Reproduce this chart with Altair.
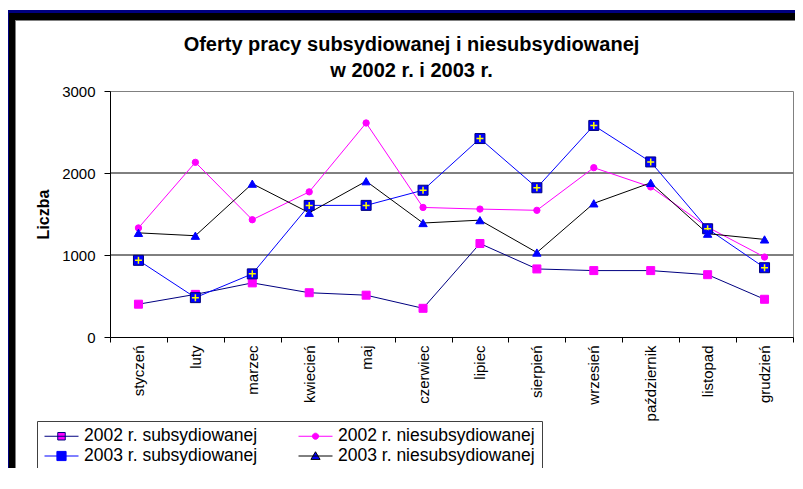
import altair as alt
import pandas as pd

months = ["styczeń", "luty", "marzec", "kwiecień", "maj", "czerwiec",
          "lipiec", "sierpień", "wrzesień", "październik", "listopad", "grudzień"]
series_names = ["2002 r. subsydiowanej", "2002 r. niesubsydiowanej",
                "2003 r. subsydiowanej", "2003 r. niesubsydiowanej"]
v2002_sub = [400, 520, 660, 540, 510, 350, 1140, 830, 810, 810, 760, 460]
v2002_nie = [1330, 2130, 1430, 1770, 2610, 1580, 1560, 1545, 2065, 1830, 1340, 975]
v2003_sub = [935, 480, 770, 1605, 1605, 1790, 2420, 1820, 2580, 2135, 1320, 845]
v2003_nie = [1270, 1235, 1870, 1515, 1900, 1390, 1425, 1030, 1630, 1880, 1260, 1190]
grid_values = [1000, 2000]
y_ticks = [0, 1000, 2000, 3000]

FONT = "Liberation Sans"

rows = []
for name, vals in zip(series_names, [v2002_sub, v2002_nie, v2003_sub, v2003_nie]):
    for m, v in zip(months, vals):
        rows.append({"miesiac": m, "seria": name, "liczba": v})
df = pd.DataFrame(rows)
grid_df = pd.DataFrame({"liczba": grid_values})

x_enc = alt.X(
    "miesiac:N", sort=months,
    scale=alt.Scale(type="band", domain=months, paddingInner=0, paddingOuter=0),
    axis=alt.Axis(title=None, labelAngle=270, labelAlign="right", labelBaseline="middle",
                  labelFontSize=15, labelFont=FONT, labelColor="black",
                  tickBand="extent", tickSize=5, tickColor="black",
                  domainColor="black", labelPadding=3, grid=False),
)
y_enc = alt.Y(
    "liczba:Q", scale=alt.Scale(domain=[0, 3000], nice=False),
    axis=alt.Axis(values=y_ticks, format="d", title="Liczba", titleFontSize=16,
                  titleFontWeight="bold",
                  titleFont=FONT, titleColor="black", titleAngle=270,
                  titleX=-67, titleY=123, titleAlign="center", titleBaseline="middle",
                  grid=False, tickSize=6, tickColor="black", domainColor="black",
                  labelFontSize=15, labelFont=FONT, labelColor="black", labelPadding=9),
)

line_colors = ["#000080", "#FF00FF", "#0000FF", "#000000"]
fill_colors = ["#FF00FF", "#FF00FF", "#0000FF", "#0000FF"]
shapes = ["square", "circle", "square", "triangle-up"]
sizes = [64, 40, 100, 70]
marker_strokes = ["#FF00FF", "#FF00FF", "#000080", "#0000FF"]

legend_paths = [
    "M-1,0H1M-0.22,-0.22H0.22V0.22H-0.22Z",
    "M-1,0H1M-0.18,0A0.18,0.18 0 1,0 0.18,0A0.18,0.18 0 1,0 -0.18,0Z",
    "M-1,0H1M-0.27,-0.27H0.27V0.27H-0.27Z",
    "M-1,0H1M0,-0.25L0.27,0.2H-0.27Z",
]

one = alt.Data(values=[{"a": 1}])


def hband(x1, x2, yc, th, color):
    return alt.Chart(one).mark_rule(color=color, strokeWidth=th, strokeCap="butt").encode(
        x=alt.value(x1), x2=alt.value(x2), y=alt.value(yc))


def vband(xc, y1, y2, th, color):
    return alt.Chart(one).mark_rule(color=color, strokeWidth=th, strokeCap="butt").encode(
        x=alt.value(xc), y=alt.value(y1), y2=alt.value(y2))


frame = [
    hband(-102, 690, -79.5, 3, "#000080"),
    hband(-101, 690, -74.5, 7, "#000000"),
    hband(-95, 690, -70.5, 1, "#808080"),
    vband(-101.5, -81, 400, 1, "#000080"),
    vband(-98, -78, 400, 6, "#000000"),
    vband(-94.5, -71, 400, 1, "#808080"),
]

grid = alt.Chart(grid_df).mark_rule(color="black", strokeWidth=1).encode(y=y_enc)

lines = []
points = []
for i, name in enumerate(series_names):
    sub = df[df["seria"] == name]
    lines.append(alt.Chart(sub).mark_line(color=line_colors[i], strokeWidth=1).encode(x=x_enc, y=y_enc))
    points.append(alt.Chart(sub).mark_point(
        shape=shapes[i], filled=True, fill=fill_colors[i], stroke=marker_strokes[i],
        strokeWidth=1, size=sizes[i], opacity=1).encode(x=x_enc, y=y_enc))

cross = alt.Chart(df[df["seria"] == series_names[2]]).mark_point(
    shape="M-1,0H1M0,-1V1", filled=False, stroke="#FFFF00", strokeWidth=1.5,
    size=49, opacity=1).encode(x=x_enc, y=y_enc)

leg = alt.Legend(title=None, orient="none", legendX=-73, legendY=330, columns=2,
                 direction="horizontal",
                 strokeColor="#404040", fillColor="white", padding=7,
                 labelFontSize=17.5, labelFont=FONT, labelColor="black", labelLimit=0,
                 symbolSize=1156, symbolStrokeWidth=1, labelOffset=5, clipHeight=16,
                 columnPadding=40, rowPadding=2)

legend_layer = alt.Chart(df).transform_filter("false").mark_point(
    filled=True, opacity=1, strokeWidth=1).encode(
    x=x_enc, y=y_enc,
    shape=alt.Shape("seria:N", scale=alt.Scale(domain=series_names, range=legend_paths), legend=leg),
    fill=alt.Fill("seria:N", scale=alt.Scale(domain=series_names, range=fill_colors), legend=leg),
    stroke=alt.Stroke("seria:N", scale=alt.Scale(domain=series_names, range=line_colors), legend=leg),
)

chart = alt.layer(*frame, grid, *lines, points[0], points[1], points[2], cross, points[3],
                  legend_layer).properties(
    width=683, height=246,
    title=alt.TitleParams(
        text=["Oferty pracy subsydiowanej i niesubsydiowanej", "w 2002 r. i 2003 r."],
        fontSize=20, font=FONT, fontWeight="bold", color="black",
        anchor="middle", dx=-40, dy=79, offset=8, lineHeight=26),
    autosize=alt.AutoSizeParams(type="none"),
    padding={"left": 102, "top": 83, "right": 2, "bottom": 131},
    background="white",
).configure_view(stroke="#808080", strokeWidth=1)

chart.save("out.html", embed_options={"renderer": "svg", "actions": False})
